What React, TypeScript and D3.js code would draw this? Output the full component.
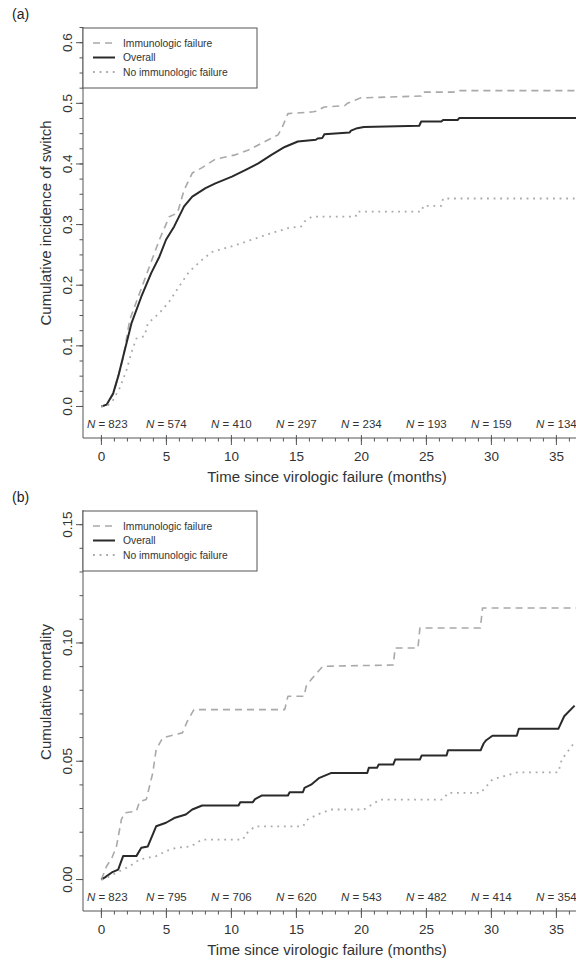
import React from "react";
import * as d3 from "d3";

const FONT = "'Liberation Sans', Arial, Helvetica, sans-serif";

// x axis (months) and numbers at risk
const monthTicks = [0, 5, 10, 15, 20, 25, 30, 35];
const switchAtRisk = [823, 574, 410, 297, 234, 193, 159, 134];
const mortalityAtRisk = [823, 795, 706, 620, 543, 482, 414, 354];

// panel (a): cumulative incidence of switch, [month, value]
const switchImmuno = [
  [0, 0], [0.4, 0.003], [0.91, 0.02], [1.67, 0.08], [2.18, 0.143], [2.94, 0.187],
  [3.7, 0.231], [4.46, 0.275], [5.22, 0.313], [5.85, 0.319], [6.36, 0.357],
  [6.99, 0.385], [7.75, 0.394], [8.77, 0.408], [10.3, 0.415], [11.31, 0.423],
  [12.58, 0.437], [13.59, 0.448], [13.9, 0.46], [14.35, 0.483], [16.3, 0.486],
  [16.5, 0.487], [17.15, 0.494], [18.7, 0.496], [18.92, 0.5], [19.55, 0.5055],
  [19.93, 0.509], [24.6, 0.512], [24.75, 0.5185], [27.1, 0.5185], [27.29, 0.521],
  [37, 0.521],
];
const switchOverall = [
  [0, 0], [0.4, 0.003], [0.91, 0.022], [1.3, 0.05], [1.67, 0.082], [2.31, 0.137],
  [3.07, 0.181], [3.83, 0.22], [4.46, 0.247], [4.97, 0.275], [5.6, 0.297],
  [6.36, 0.33], [6.99, 0.346], [8.01, 0.36], [8.77, 0.368], [10.04, 0.379],
  [11.06, 0.39], [12.07, 0.401], [13.08, 0.415], [14.1, 0.428], [15.11, 0.437],
  [16.5, 0.44], [16.63, 0.442], [17.0, 0.443], [17.15, 0.449], [19.1, 0.452],
  [19.2, 0.455], [19.68, 0.459], [20.19, 0.461], [24.45, 0.463], [24.6, 0.47],
  [26.15, 0.47], [26.28, 0.4725], [27.4, 0.4725], [27.54, 0.476], [37, 0.476],
];
const switchNoImmuno = [
  [0, 0], [0.5, 0.002], [0.91, 0.011], [1.4, 0.03], [1.93, 0.06], [2.4, 0.095],
  [2.69, 0.112], [3.32, 0.116], [3.57, 0.137], [4.46, 0.154], [5.22, 0.173],
  [5.98, 0.198], [6.74, 0.222], [7.75, 0.242], [8.52, 0.255], [10.3, 0.266],
  [11.56, 0.275], [13.08, 0.286], [14.35, 0.294], [15.37, 0.297], [15.62, 0.305],
  [16.2, 0.313], [19.55, 0.313], [19.68, 0.3214], [24.63, 0.3214], [24.76, 0.331],
  [26.15, 0.331], [26.28, 0.343], [37, 0.343],
];

// panel (b): cumulative mortality, [month, value]
const mortImmuno = [
  [0, 0], [0.4, 0.0056], [0.8, 0.009], [1.16, 0.014], [1.54, 0.0254], [1.8, 0.0282],
  [2.69, 0.0289], [2.94, 0.033], [3.45, 0.0338], [3.95, 0.045], [4.21, 0.0549],
  [4.71, 0.0599], [6.23, 0.062], [6.61, 0.0669], [7.12, 0.0718], [14.1, 0.0718],
  [14.35, 0.0775], [15.6, 0.0775], [15.75, 0.0817], [16.13, 0.0845], [17.02, 0.0901],
  [22.45, 0.0907], [22.6, 0.0979], [24.35, 0.0979], [24.5, 0.1063], [29.15, 0.1063],
  [29.32, 0.1148], [37, 0.1148],
];
const mortOverall = [
  [0, 0], [0.3, 0.001], [0.8, 0.003], [1.29, 0.0042], [1.67, 0.0099], [2.69, 0.0099],
  [3.07, 0.0134], [3.57, 0.014], [4.21, 0.0225], [4.97, 0.024], [5.6, 0.026],
  [6.49, 0.0275], [6.99, 0.0296], [7.75, 0.0313], [10.55, 0.0313], [10.68, 0.0327],
  [11.65, 0.0327], [11.82, 0.034], [12.32, 0.0355], [14.35, 0.0355], [14.48, 0.0369],
  [15.5, 0.0369], [15.62, 0.0387], [16.13, 0.0401], [16.77, 0.043], [17.65, 0.045],
  [20.45, 0.045], [20.57, 0.0472], [21.2, 0.0472], [21.33, 0.0486], [22.45, 0.0486],
  [22.6, 0.0507], [24.5, 0.0507], [24.63, 0.0524], [26.55, 0.0524], [26.66, 0.0546],
  [29.17, 0.0546], [29.4, 0.0575], [29.6, 0.0589], [30.08, 0.0608], [31.95, 0.0608],
  [32.11, 0.0637], [35.15, 0.0637], [35.6, 0.069], [36.4, 0.0735],
];
const mortNoImmuno = [
  [0, 0], [0.5, 0.001], [1.2, 0.003], [2.18, 0.0056], [2.94, 0.0085], [4.21, 0.0099],
  [4.97, 0.012], [5.73, 0.0134], [6.87, 0.014], [7.75, 0.0169], [10.9, 0.0169],
  [11.06, 0.019], [11.82, 0.0225], [15.5, 0.0225], [15.87, 0.0254], [16.64, 0.0275],
  [17.65, 0.0296], [20.19, 0.0296], [21.45, 0.0338], [26.28, 0.0338], [26.66, 0.0366],
  [29.17, 0.0366], [30.08, 0.0423], [31.99, 0.0453], [35.15, 0.0453], [35.41, 0.0507],
  [36.4, 0.058],
];

const legendLabels = ["Immunologic failure", "Overall", "No immunologic failure"];

const lineStyles = [
  { stroke: "#a9a9a9", width: 1.6, dash: "7 5" },
  { stroke: "#2a2a2a", width: 2, dash: null },
  { stroke: "#a9a9a9", width: 1.8, dash: "1.8 4.8" },
];

function Panel({ tag, top, axisY, yDomain, yMajor, yMinor, yFmt, yTitle, yTitleY, series, atRisk, clipId }) {
  const left = 83;
  // 0 months sits at x = 101, 13 px per month
  const x = d3.scaleLinear().domain([0, 35]).range([101.4, 556.4]);
  const y = d3.scaleLinear().domain(yDomain).range([axisY, top]);
  const line = d3.line().x((d) => x(d[0])).y((d) => y(d[1]));
  const minorX = d3.range(0, 38, 1);

  return (
    <g>
      <defs>
        <clipPath id={clipId}>
          <rect x={left} y={top} width={576 - left} height={axisY - top} />
        </clipPath>
      </defs>
      <text x={12} y={top - 8} fontSize={14} fill="#222">{tag}</text>

      <g clipPath={`url(#${clipId})`}>
        {series.map((s, i) => (
          <path
            key={i}
            d={line(s)}
            fill="none"
            stroke={lineStyles[i].stroke}
            strokeWidth={lineStyles[i].width}
            strokeDasharray={lineStyles[i].dash || undefined}
            strokeLinejoin="round"
          />
        ))}
      </g>

      {/* y axis */}
      <line x1={left} x2={left} y1={top} y2={axisY} stroke="#555" />
      {yMinor.map((v) => (
        <line key={"ym" + v} x1={left - 3.5} x2={left} y1={y(v)} y2={y(v)} stroke="#555" />
      ))}
      {yMajor.map((v) => (
        <g key={"yM" + v}>
          <line x1={left - 7} x2={left} y1={y(v)} y2={y(v)} stroke="#555" />
          <text
            transform={`translate(${67},${y(v)}) rotate(-90)`}
            textAnchor="middle"
            dominantBaseline="central"
            fontSize={13.5}
            fill="#333"
          >
            {yFmt(v)}
          </text>
        </g>
      ))}
      <text
        transform={`translate(${45},${yTitleY}) rotate(-90)`}
        textAnchor="middle"
        dominantBaseline="central"
        fontSize={15}
        fill="#333"
      >
        {yTitle}
      </text>

      {/* x axis */}
      <line x1={left} x2={576} y1={axisY} y2={axisY} stroke="#555" />
      {minorX.map((m) => (
        <line key={"xm" + m} x1={x(m)} x2={x(m)} y1={axisY} y2={axisY + 3.5} stroke="#555" />
      ))}
      {monthTicks.map((m) => (
        <g key={"xM" + m}>
          <line x1={x(m)} x2={x(m)} y1={axisY - 3} y2={axisY + 7} stroke="#555" />
          <text x={x(m)} y={axisY + 18} textAnchor="middle" dominantBaseline="central" fontSize={13.5} fill="#333">
            {m}
          </text>
        </g>
      ))}
      <text x={327} y={axisY + 38} textAnchor="middle" dominantBaseline="central" fontSize={15} fill="#333">
        Time since virologic failure (months)
      </text>

      {/* numbers at risk */}
      {atRisk.map((n, i) => (
        <text
          key={"n" + i}
          x={x(i === 0 ? 0.45 : monthTicks[i])}
          y={axisY - 14}
          textAnchor="middle"
          dominantBaseline="central"
          fontSize={11.5}
          fill="#333"
        >
          <tspan fontStyle="italic">N</tspan>
          {" = " + n}
        </text>
      ))}

      {/* legend */}
      <rect x={left} y={top + 1} width={174} height={60} fill="#fff" stroke="#555" />
      {legendLabels.map((lab, i) => {
        const ly = top + 16 + i * 14.5;
        return (
          <g key={lab}>
            <line
              x1={93}
              x2={115}
              y1={ly}
              y2={ly}
              stroke={lineStyles[i].stroke}
              strokeWidth={lineStyles[i].width}
              strokeDasharray={lineStyles[i].dash || undefined}
            />
            <text x={123} y={ly} dominantBaseline="central" fontSize={10.3} fill="#333">
              {lab}
            </text>
          </g>
        );
      })}
    </g>
  );
}

export default function App() {
  const fmt1 = d3.format(".1f");
  const fmt2 = d3.format(".2f");
  return (
    <svg
      width={576}
      height={967}
      style={{ position: "absolute", left: 0, top: 0, background: "#fff", fontFamily: FONT }}
    >
      <rect width={576} height={967} fill="#fff" />
      <Panel
        tag="(a)"
        top={27}
        axisY={438}
        yDomain={[-0.052, 0.6259]}
        yMajor={d3.range(0, 0.61, 0.1)}
        yMinor={d3.range(0, 0.626, 0.025)}
        yFmt={fmt1}
        yTitle="Cumulative incidence of switch"
        yTitleY={223}
        series={[switchImmuno, switchOverall, switchNoImmuno]}
        atRisk={switchAtRisk}
        clipId="clipA"
      />
      <Panel
        tag="(b)"
        top={510}
        axisY={911}
        yDomain={[-0.0133, 0.1562]}
        yMajor={[0, 0.05, 0.1, 0.15]}
        yMinor={d3.range(0, 0.156, 0.01)}
        yFmt={fmt2}
        yTitle="Cumulative mortality"
        yTitleY={692}
        series={[mortImmuno, mortOverall, mortNoImmuno]}
        atRisk={mortalityAtRisk}
        clipId="clipB"
      />
    </svg>
  );
}
